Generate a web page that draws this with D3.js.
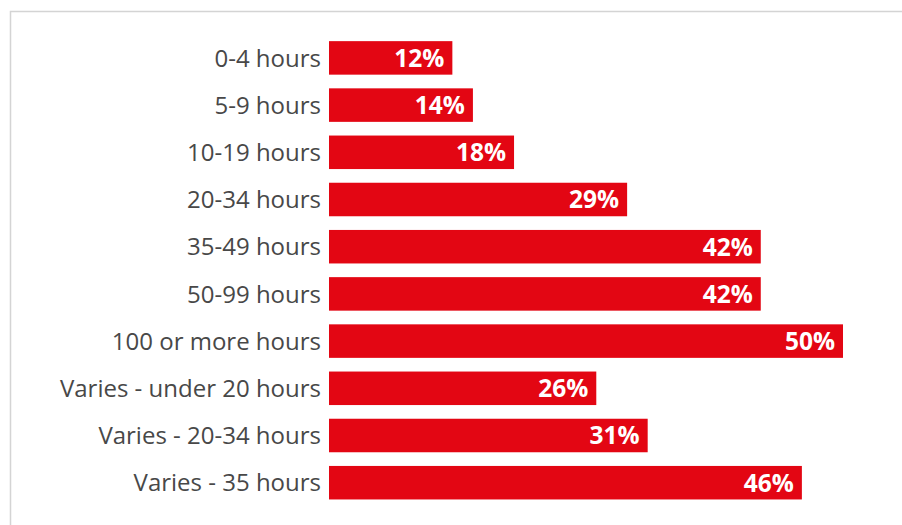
<!DOCTYPE html>
<html>
<head>
<meta charset="utf-8">
<script src="https://cdn.jsdelivr.net/npm/d3@7"></script>
<style>
  html, body { margin: 0; padding: 0; background: #fff; }
  svg { display: block; }
</style>
</head>
<body>
<div id="chart"></div>
<script>
// Share of respondents by hours category
const categories = [
  "0-4 hours", "5-9 hours", "10-19 hours", "20-34 hours", "35-49 hours",
  "50-99 hours", "100 or more hours", "Varies - under 20 hours",
  "Varies - 20-34 hours", "Varies - 35 hours"
];
const values = [12, 14, 18, 29, 42, 42, 50, 26, 31, 46];

const W = 902, H = 525;
const svg = d3.select("#chart").append("svg")
  .attr("width", W).attr("height", H);

// panel frame (top and left edges visible)
svg.append("rect")
  .attr("x", 10.5).attr("y", 11.5)
  .attr("width", W + 20).attr("height", H + 20)
  .attr("fill", "none")
  .attr("stroke", "#d4d4d4")
  .attr("stroke-width", 1.5);

const x = d3.scaleLinear().domain([0, 50]).range([329, 843]);
const y = d3.scaleBand().domain(categories).range([34.3, 506.3]).paddingInner(0.29).paddingOuter(0.145);

const data = categories.map((c, i) => ({ c, v: values[i] }));

svg.selectAll("rect.bar").data(data).join("rect")
  .attr("class", "bar")
  .attr("x", x(0))
  .attr("y", d => y(d.c))
  .attr("width", d => x(d.v) - x(0))
  .attr("height", y.bandwidth())
  .attr("fill", "#e30613");

svg.selectAll("text.cat").data(data).join("text")
  .attr("class", "cat")
  .attr("x", 321)
  .attr("y", d => y(d.c) + y.bandwidth() / 2)
  .attr("dy", "0.36em")
  .attr("text-anchor", "end")
  .attr("font-family", "'Open Sans', sans-serif")
  .attr("font-size", 24)
  .attr("fill", "#484848")
  .text(d => d.c);

svg.selectAll("text.val").data(data).join("text")
  .attr("class", "val")
  .attr("x", d => x(d.v) - 8)
  .attr("y", d => y(d.c) + y.bandwidth() / 2)
  .attr("dy", "0.36em")
  .attr("text-anchor", "end")
  .attr("font-family", "'Open Sans', sans-serif")
  .attr("font-weight", "bold")
  .attr("font-size", 24.5)
  .attr("fill", "#fff")
  .text(d => d.v + "%");
</script>
</body>
</html>
